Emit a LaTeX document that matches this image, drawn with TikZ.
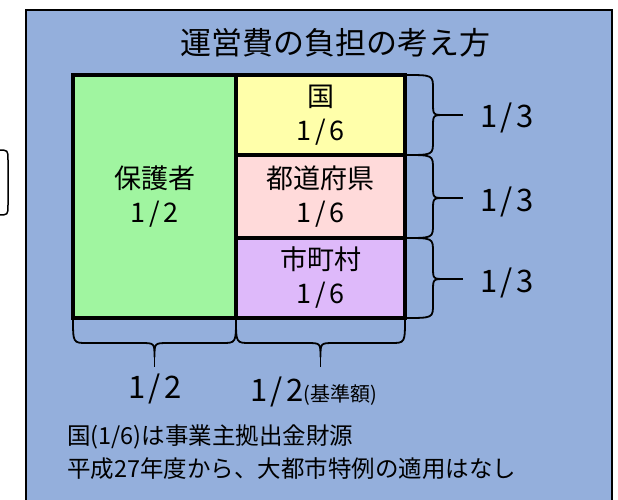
\documentclass[tikz,border=0pt]{standalone}
\usepackage{fontspec}
\setmainfont{Noto Sans CJK JP}
\definecolor{bgblue}{RGB}{148,175,220}
\definecolor{gfill}{RGB}{160,245,160}
\definecolor{yfill}{RGB}{255,255,170}
\definecolor{pfill}{RGB}{255,218,218}
\definecolor{vfill}{RGB}{222,185,250}
\newcommand{\frc}[2]{#1\kern3.5pt/\kern3.5pt#2}
\tikzset{
  share/.style={draw=black, line width=3.5pt, inner sep=0pt, align=center,
    font=\fontsize{27}{34}\selectfont},
  brace/.style={draw=black, line width=1.8pt, line join=round},
  fraclab/.style={font=\fontsize{31}{34}\selectfont, inner sep=0pt},
  note/.style={font=\fontsize{23.5}{26}\selectfont, inner sep=0pt, anchor=west},
}
\begin{document}
\begin{tikzpicture}[x=1pt,y=-1pt]
\useasboundingbox (0,0) rectangle (618,499);
% background panel
\fill[bgblue] (26,10) rectangle (612,505);
\draw[line width=2pt] (26,505) -- (26,10) -- (612,10) -- (612,505);
% left fragment
\draw[line width=1.5pt] (-2,150) .. controls (8,150) .. (8,160) -- (8,205) .. controls (8,215) .. (-2,215);
% title
\node[font=\fontsize{31}{34}\selectfont, inner sep=0pt] (title) at (335,43) {運営費の負担の考え方};
% boxes
\node[share, fill=gfill, minimum width=163pt, minimum height=243pt] (hogo) at (154.5,196.5) {保護者\\\frc{1}{2}};
\node[share, fill=yfill, minimum width=169pt, minimum height=80pt] (kuni) at (320.5,115) {国\\\frc{1}{6}};
\node[share, fill=pfill, minimum width=169pt, minimum height=83pt] (ken) at (320.5,196.5) {都道府県\\\frc{1}{6}};
\node[share, fill=vfill, minimum width=169pt, minimum height=80pt] (shi) at (320.5,278) {市町村\\\frc{1}{6}};
% right braces
\foreach \ya/\yb/\ym in {75/155/115, 155/238/198, 238/318/279}{
  \draw[brace] (405,\ya) .. controls (433,\ya) .. (433,\ya+14) -- (433,\ym-12)
     .. controls (433,\ym) .. (445,\ym) .. controls (433,\ym) .. (433,\ym+12)
     -- (433,\yb-14) .. controls (433,\yb) .. (405,\yb);
  \draw[brace] (445,\ym) -- (463,\ym);
}
\node[fraclab, anchor=west] (r1) at (480,118) {\frc{1}{3}};
\node[fraclab, anchor=west] (r2) at (480,202) {\frc{1}{3}};
\node[fraclab, anchor=west] (r3) at (480,283) {\frc{1}{3}};
% bottom braces
\foreach \xa/\xb/\xm in {73/236/154.5, 236/405/320.5}{
  \draw[brace] (\xa,318) .. controls (\xa,343) .. (\xa+14,343) -- (\xm-14,343)
     .. controls (\xm,343) .. (\xm,357) .. controls (\xm,343) .. (\xm+14,343)
     -- (\xb-14,343) .. controls (\xb,343) .. (\xb,318);
  \draw[brace] (\xm,357) -- (\xm,367);
}
\node[fraclab] (b1) at (155,389) {\frc{1}{2}};
\node[fraclab, anchor=base west] (b2) at (250,401) {\frc{1}{2}{\fontsize{20}{22}\selectfont(基準額)}};
% notes
\node[note] (n1) at (67,437) {国(1/6)は事業主拠出金財源};
\node[note] (n2) at (67,469) {平成27年度から、大都市特例の適用はなし};
\end{tikzpicture}
\end{document}
